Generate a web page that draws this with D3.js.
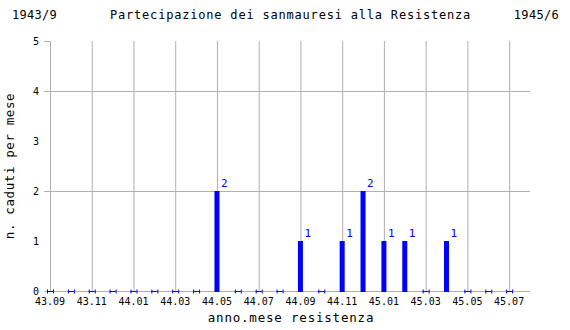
<!DOCTYPE html>
<html><head><meta charset="utf-8">
<script src="https://cdn.jsdelivr.net/npm/d3@7"></script>
<style>body{margin:0;background:#fff}svg{display:block}text{font-family:"DejaVu Sans Mono",monospace}</style>
</head><body>
<svg id="c" width="570" height="330"></svg>
<script>
const months = ["43.09","43.10","43.11","43.12","44.01","44.02","44.03","44.04","44.05","44.06","44.07","44.08","44.09","44.10","44.11","44.12","45.01","45.02","45.03","45.04","45.05","45.06","45.07"];
const caduti = [0,0,0,0,0,0,0,0,2,0,0,0,1,0,1,2,1,1,0,1,0,0,0];
const yTickLabels = [0,1,2,3,4,5];
const yGridValues = [2,4];
const yTickMarks = [0,2,4,5];
const titleMain = "Partecipazione dei sanmauresi alla Resistenza";
const titleLeft = "1943/9";
const titleRight = "1945/6";
const xTitle = "anno.mese resistenza";
const yTitle = "n. caduti per mese";

const svg = d3.select("#c");
const L = 50, R = 530, T = 41, B = 291;
const x = d3.scaleLinear().domain([0, months.length]).range([L, R]);
const y = d3.scaleLinear().domain([0, 5]).range([B, T]);
const grid = "#b0b0b0", blue = "#0000ff";
const labeled = months.map((m,i)=>i).filter(i => i % 2 === 0);

// vertical grid
svg.append("g").selectAll("line").data(labeled).join("line")
  .attr("x1", i => x(i) + 0.5).attr("x2", i => x(i) + 0.5)
  .attr("y1", T).attr("y2", B)
  .attr("stroke", grid).attr("stroke-width", 1);
// horizontal grid
svg.append("g").selectAll("line").data(yGridValues).join("line")
  .attr("x1", L).attr("x2", R)
  .attr("y1", d => y(d) + 0.5).attr("y2", d => y(d) + 0.5)
  .attr("stroke", grid);
// y tick marks
svg.append("g").selectAll("line").data(yTickMarks).join("line")
  .attr("x1", L - 6).attr("x2", L)
  .attr("y1", d => y(d) + 0.5).attr("y2", d => y(d) + 0.5)
  .attr("stroke", grid);
// axes lines
svg.append("line").attr("x1", L+0.5).attr("x2", L+0.5).attr("y1", T).attr("y2", B).attr("stroke", grid);
svg.append("line").attr("x1", L).attr("x2", R).attr("y1", B+0.5).attr("y2", B+0.5).attr("stroke", grid);

// y tick labels
svg.append("g").selectAll("text").data(yTickLabels).join("text")
  .attr("x", 39).attr("y", d => y(d) + 4)
  .attr("text-anchor", "end").attr("font-size", 10).attr("fill", "#000")
  .text(d => d);
// x tick labels
svg.append("g").selectAll("text").data(labeled).join("text")
  .attr("x", i => x(i)).attr("y", 305)
  .attr("text-anchor", "middle").attr("font-size", 10).attr("fill", "#000")
  .text(i => months[i]);

// bars
const data = months.map((m,i)=>({m, i, v: caduti[i]}));
svg.append("g").selectAll("rect").data(data.filter(d => d.v > 0)).join("rect")
  .attr("x", d => x(d.i) - 2.5).attr("width", 5)
  .attr("y", d => y(d.v)).attr("height", d => y(0) - y(d.v) + 1)
  .attr("fill", blue);
// value labels
svg.append("g").selectAll("text").data(data.filter(d => d.v > 0)).join("text")
  .attr("x", d => x(d.i) + 4).attr("y", d => y(d.v) - 4)
  .attr("font-size", 11).attr("fill", blue)
  .text(d => d.v);
// zero markers
const zg = svg.append("g").selectAll("g").data(data.filter(d => d.v === 0)).join("g")
  .attr("stroke", blue).attr("stroke-width", 1);
zg.append("line").attr("x1", d => x(d.i) - 3).attr("x2", d => x(d.i) + 3).attr("y1", B+0.5).attr("y2", B+0.5);
zg.append("line").attr("x1", d => x(d.i) - 2.5).attr("x2", d => x(d.i) - 2.5).attr("y1", B-1.5).attr("y2", B+2.5);
zg.append("line").attr("x1", d => x(d.i) + 3.5).attr("x2", d => x(d.i) + 3.5).attr("y1", B-1.5).attr("y2", B+2.5);

// titles
svg.append("text").attr("x", 12).attr("y", 19).attr("font-size", 12).attr("letter-spacing", 0.3).text(titleLeft);
svg.append("text").attr("x", 110).attr("y", 19).attr("font-size", 12).attr("letter-spacing", 0.8).text(titleMain);
svg.append("text").attr("x", 559).attr("y", 19).attr("font-size", 12).attr("letter-spacing", 0.3).attr("text-anchor", "end").text(titleRight);
svg.append("text").attr("x", 291).attr("y", 322).attr("font-size", 12.5).attr("letter-spacing", 0.8).attr("text-anchor", "middle").text(xTitle);
svg.append("text").attr("transform", "translate(14,166) rotate(-90)").attr("font-size", 12.5).attr("letter-spacing", 0.6).attr("text-anchor", "middle").text(yTitle);
</script>
</body></html>
